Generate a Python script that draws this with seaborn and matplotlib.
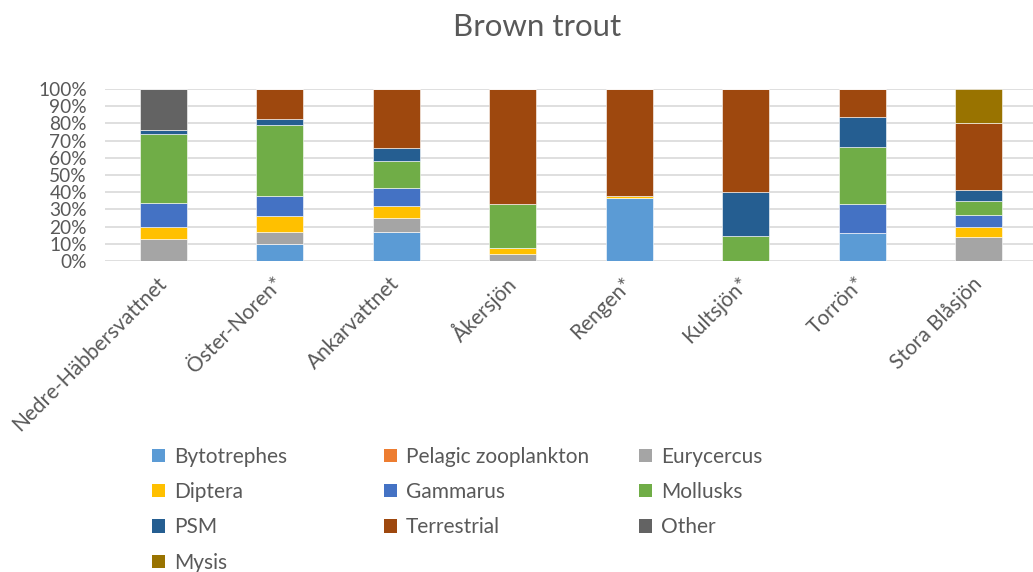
import numpy as np
import pandas as pd
import seaborn as sns
import matplotlib
matplotlib.use("Agg")
import matplotlib.pyplot as plt
from matplotlib.patches import Patch
from matplotlib.ticker import FuncFormatter, MultipleLocator

lakes = ["Nedre-Häbbersvattnet", "Öster-Noren*", "Ankarvattnet", "Åkersjön",
         "Rengen*", "Kultsjön*", "Torrön*", "Stora Blåsjön"]

# Diet composition (% of stomach content) per lake
bytotrephes = [0, 10.0, 17.0, 0, 36.5, 0, 16.3, 0]
pelagic_zooplankton = [0, 0, 0, 0, 0, 0, 0, 0]
eurycercus = [12.6, 7.0, 8.0, 4.0, 0, 0, 0, 13.8]
diptera = [7.2, 9.0, 7.0, 3.5, 1.2, 0, 0, 6.0]
gammarus = [14.1, 11.6, 10.6, 0, 0, 0, 16.6, 7.1]
mollusks = [39.7, 41.5, 15.8, 25.5, 0, 14.5, 33.6, 7.8]
psm = [2.6, 3.3, 7.2, 0, 0, 25.6, 17.0, 6.4]
terrestrial = [0, 17.6, 34.4, 67.0, 62.3, 59.9, 16.5, 38.9]
other = [23.8, 0, 0, 0, 0, 0, 0, 0]
mysis = [0, 0, 0, 0, 0, 0, 0, 20.0]

series = [
    ("Bytotrephes", bytotrephes, "#5B9BD5"),
    ("Pelagic zooplankton", pelagic_zooplankton, "#ED7D31"),
    ("Eurycercus", eurycercus, "#A5A5A5"),
    ("Diptera", diptera, "#FFC000"),
    ("Gammarus", gammarus, "#4472C4"),
    ("Mollusks", mollusks, "#70AD47"),
    ("PSM", psm, "#255E91"),
    ("Terrestrial", terrestrial, "#9E480E"),
    ("Other", other, "#636363"),
    ("Mysis", mysis, "#997300"),
]

sns.set_style("white")
plt.rcParams["font.family"] = ["Lato", "DejaVu Sans"]
text_col = "#595959"
fs = 15

fig = plt.figure(figsize=(10.33, 5.72), dpi=100)
ax = fig.add_axes([105 / 1033, 311 / 572, 932 / 1033, 172 / 572])

bottom = np.zeros(len(lakes))
for name, vals, col in series:
    frac = np.array(vals) / 100.0
    df = pd.DataFrame({"lake": lakes, "share": frac})
    sns.barplot(data=df, x="lake", y="share", order=lakes, color=col,
                width=0.4, bottom=bottom, ax=ax, edgecolor="white",
                linewidth=0.4, saturation=1, err_kws={"linewidth": 0})
    bottom += frac

ax.set_ylim(0, 1)
ax.set_xlim(-0.5, len(lakes) - 0.5)
ax.yaxis.set_major_locator(MultipleLocator(0.1))
ax.yaxis.set_major_formatter(FuncFormatter(lambda v, p: f"{v * 100:.0f}%"))
ax.grid(axis="y", color="#D9D9D9", linewidth=1.2)
ax.set_axisbelow(True)
for s in ax.spines.values():
    s.set_visible(False)
ax.set_xlabel("")
ax.set_ylabel("")
ax.tick_params(axis="both", length=0, colors=text_col)
ax.tick_params(axis="x", labelsize=fs, pad=14)
ax.tick_params(axis="y", labelsize=13.8, pad=13)
plt.setp(ax.get_xticklabels(), rotation=45, ha="right", va="center",
         rotation_mode="anchor", color=text_col)

fig.text(537 / 1033, 1 - 27 / 572, "Brown trout", ha="center", va="center",
         fontsize=22.5, color=text_col)

# Legend: three columns laid out row by row
handles = {name: Patch(facecolor=col, edgecolor="none") for name, _, col in series}
columns = [
    (["Bytotrephes", "Diptera", "PSM", "Mysis"], 152),
    (["Pelagic zooplankton", "Gammarus", "Terrestrial"], 384),
    (["Eurycercus", "Mollusks", "Other"], 639),
]
for names, x0 in columns:
    fig.legend([handles[n] for n in names], names,
               loc="upper left", bbox_to_anchor=(x0 / 1033, 1 - 447 / 572),
               frameon=False, fontsize=fs, handlelength=0.6,
               handleheight=0.6, handletextpad=0.45, labelspacing=0.73,
               borderpad=0, borderaxespad=0, labelcolor=text_col)

fig.savefig("out.png", dpi=100)
